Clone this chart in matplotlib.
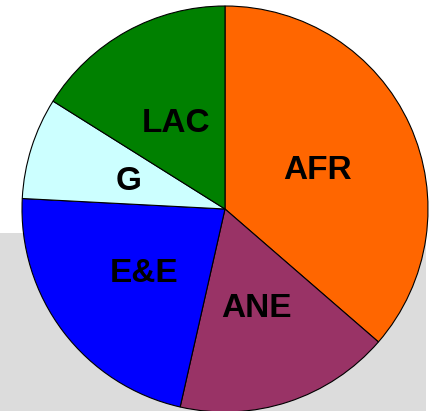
import matplotlib.pyplot as plt
from matplotlib.patches import Rectangle

regions = ['AFR', 'ANE', 'E&E', 'G', 'LAC']
shares = [36.4, 17.2, 22.3, 8.1, 16.1]
colors = ['#FF6600', '#993366', '#0000FF', '#CCFFFF', '#008000']

fig = plt.figure(figsize=(4.33, 4.11), dpi=100)
ax = fig.add_axes([0, 0, 1, 1])

# gray panel behind the lower part of the pie
ax.add_patch(Rectangle((0, 0), 426 / 433, (411 - 233) / 411, transform=ax.transAxes,
                       facecolor='#DCDCDC', edgecolor='none', zorder=0))

ax.pie(shares, labels=regions, colors=colors, startangle=90, counterclock=False,
       labeldistance=0.5,
       wedgeprops=dict(edgecolor='black', linewidth=0.8),
       textprops=dict(ha='center', va='center_baseline', fontsize=24, fontweight='bold',
                      family='Liberation Sans', color='black'))

# pie centre at pixel (225, 209), radius 203 px
ax.set_aspect('auto')
ax.set_xlim(-225 / 203, (433 - 225) / 203)
ax.set_ylim((209 - 411) / 203, 209 / 203)
ax.axis('off')

plt.savefig('out.png', dpi=100)
plt.close(fig)
